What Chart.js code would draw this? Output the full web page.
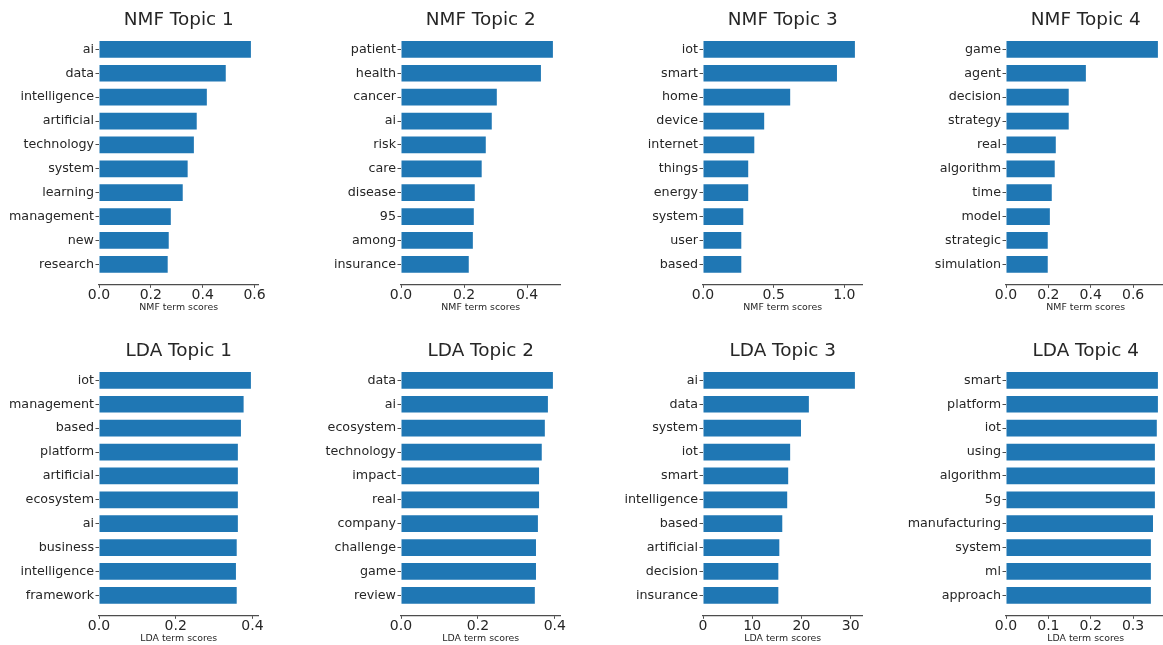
<!DOCTYPE html>
<html lang="en">
<head>
<meta charset="UTF-8">
<title>NMF / LDA topic terms</title>
<script src="https://cdn.jsdelivr.net/npm/chart.js"></script>
<style>
    html, body { margin: 0; padding: 0; background: #fff; overflow: hidden; }
    body { width: 1163px; height: 645px; position: relative; }
    canvas { position: absolute; }
</style>
</head>
<body>
<canvas id="c0"></canvas><canvas id="c1"></canvas><canvas id="c2"></canvas><canvas id="c3"></canvas>
<canvas id="c4"></canvas><canvas id="c5"></canvas><canvas id="c6"></canvas><canvas id="c7"></canvas>

<script>
// --- data (top term first) ---
const nmf1Terms = ['ai', 'data', 'intelligence', 'artificial', 'technology', 'system', 'learning', 'management', 'new', 'research'];
const nmf1Scores = [0.586, 0.489, 0.416, 0.377, 0.366, 0.342, 0.323, 0.277, 0.269, 0.265];

const nmf2Terms = ['patient', 'health', 'cancer', 'ai', 'risk', 'care', 'disease', '95', 'among', 'insurance'];
const nmf2Scores = [0.482, 0.444, 0.304, 0.288, 0.269, 0.256, 0.234, 0.231, 0.228, 0.215];

const nmf3Terms = ['iot', 'smart', 'home', 'device', 'internet', 'things', 'energy', 'system', 'user', 'based'];
const nmf3Scores = [1.075, 0.948, 0.617, 0.433, 0.363, 0.320, 0.320, 0.285, 0.271, 0.271];

const nmf4Terms = ['game', 'agent', 'decision', 'strategy', 'real', 'algorithm', 'time', 'model', 'strategic', 'simulation'];
const nmf4Scores = [0.717, 0.377, 0.296, 0.296, 0.235, 0.230, 0.216, 0.207, 0.197, 0.197];

const lda1Terms = ['iot', 'management', 'based', 'platform', 'artificial', 'ecosystem', 'ai', 'business', 'intelligence', 'framework'];
const lda1Scores = [0.396, 0.377, 0.370, 0.362, 0.362, 0.362, 0.362, 0.359, 0.357, 0.359];

const lda2Terms = ['data', 'ai', 'ecosystem', 'technology', 'impact', 'real', 'company', 'challenge', 'game', 'review'];
const lda2Scores = [0.395, 0.382, 0.374, 0.366, 0.359, 0.359, 0.356, 0.351, 0.351, 0.348];

const lda3Terms = ['ai', 'data', 'system', 'iot', 'smart', 'intelligence', 'based', 'artificial', 'decision', 'insurance'];
const lda3Scores = [30.85, 21.5, 19.9, 17.7, 17.3, 17.1, 16.1, 15.5, 15.3, 15.3];

const lda4Terms = ['smart', 'platform', 'iot', 'using', 'algorithm', '5g', 'manufacturing', 'system', 'ml', 'approach'];
const lda4Scores = [0.3586, 0.3586, 0.356, 0.3515, 0.3515, 0.3515, 0.347, 0.342, 0.342, 0.342];

const panelTitles = ['NMF Topic 1', 'NMF Topic 2', 'NMF Topic 3', 'NMF Topic 4',
                     'LDA Topic 1', 'LDA Topic 2', 'LDA Topic 3', 'LDA Topic 4'];
const axisTitles = ['NMF term scores', 'NMF term scores', 'NMF term scores', 'NMF term scores',
                    'LDA term scores', 'LDA term scores', 'LDA term scores', 'LDA term scores'];
const xTickValues = [
    [0, 0.2, 0.4, 0.6], [0, 0.2, 0.4], [0, 0.5, 1.0], [0, 0.2, 0.4, 0.6],
    [0, 0.2, 0.4], [0, 0.2, 0.4], [0, 10, 20, 30], [0, 0.1, 0.2, 0.3]
];
const xTickDecimals = [1, 1, 1, 1, 1, 1, 0, 1];

const panelTerms = [nmf1Terms, nmf2Terms, nmf3Terms, nmf4Terms, lda1Terms, lda2Terms, lda3Terms, lda4Terms];
const panelScores = [nmf1Scores, nmf2Scores, nmf3Scores, nmf4Scores, lda1Scores, lda2Scores, lda3Scores, lda4Scores];

// --- layout ---
const FONT = "'DejaVu Sans', sans-serif";
const TEXT = '#262626';
const BAR = '#1f77b4';
const colLeft = [0, 302, 604.3, 907];
const rowTop = [0, 330.7];
const CW = 290, CH = 314;
const AXIS_W = 99, PLOT_W = 159.5;

const titlePlugin = {
    id: 'panelTitle',
    afterDraw(chart, args, opts) {
        const ctx = chart.ctx;
        const a = chart.chartArea;
        ctx.save();
        ctx.font = '18.4px ' + FONT;
        ctx.fillStyle = TEXT;
        ctx.textAlign = 'center';
        ctx.textBaseline = 'middle';
        ctx.fillText(opts.text, (a.left + a.right) / 2, 20.5);
        ctx.restore();
    }
};

function makePanel(i) {
    const terms = panelTerms[i];
    const scores = panelScores[i];
    const canvas = document.getElementById('c' + i);
    canvas.style.left = colLeft[i % 4] + 'px';
    canvas.style.top = rowTop[Math.floor(i / 4)] + 'px';
    canvas.style.width = CW + 'px';
    canvas.style.height = CH + 'px';
    canvas.width = CW;
    canvas.height = CH;

    const xMax = Math.max(...scores) * 1.05;

    new Chart(canvas, {
        type: 'bar',
        data: {
            datasets: [{
                data: scores.map((v, k) => ({x: v, y: k})),
                backgroundColor: BAR,
                borderWidth: 0,
                barPercentage: 0.7,
                categoryPercentage: 1
            }]
        },
        plugins: [titlePlugin],
        options: {
            indexAxis: 'y',
            responsive: false,
            animation: false,
            devicePixelRatio: 1,
            layout: { padding: { top: 29.4, left: 0, right: CW - AXIS_W - PLOT_W, bottom: 0 } },
            plugins: {
                legend: { display: false },
                tooltip: { enabled: false },
                panelTitle: { text: panelTitles[i] }
            },
            scales: {
                x: {
                    type: 'linear',
                    min: 0,
                    max: xMax,
                    offset: false,
                    afterFit: s => { s.height = 29.7; },
                    afterBuildTicks: s => { s.ticks = xTickValues[i].map(v => ({value: v})); },
                    border: { display: true, color: '#4d4d4d', width: 1.2 },
                    grid: { drawOnChartArea: false, drawTicks: true, tickLength: 3.5, tickColor: '#4d4d4d', offset: false },
                    ticks: {
                        padding: -0.5,
                        color: TEXT,
                        font: { family: FONT, size: 14 },
                        maxRotation: 0,
                        callback: v => Number(v).toFixed(xTickDecimals[i])
                    },
                    title: {
                        display: true,
                        text: axisTitles[i],
                        color: TEXT,
                        font: { family: FONT, size: 9.4 },
                        padding: { top: 0, bottom: 1.2 }
                    }
                },
                y: {
                    type: 'linear',
                    reverse: true,
                    min: -0.835,
                    max: 9.835,
                    offset: false,
                    afterFit: s => { s.width = AXIS_W; },
                    afterBuildTicks: s => { s.ticks = terms.map((t, k) => ({value: k})); },
                    border: { display: false },
                    grid: { drawOnChartArea: false, drawTicks: true, tickLength: 3.5, tickColor: '#4d4d4d', offset: false },
                    ticks: {
                        padding: 1.5,
                        color: TEXT,
                        font: { family: FONT, size: 12.7 },
                        callback: v => terms[v]
                    }
                }
            }
        }
    });
}

for (let i = 0; i < 8; i++) makePanel(i);
</script>
</body>
</html>
